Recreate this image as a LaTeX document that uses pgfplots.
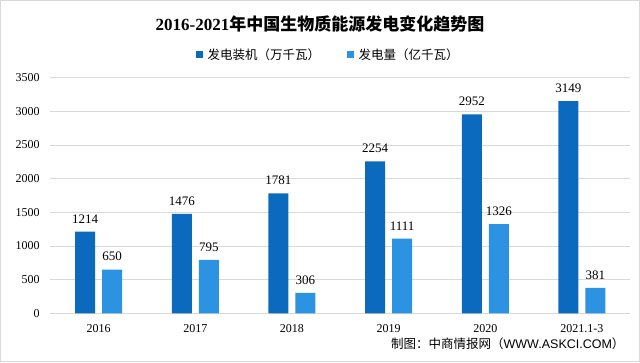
\documentclass[border=0pt]{standalone}
\usepackage{fontspec}
\setmainfont{Liberation Serif}
\newfontfamily\cjk{Noto Sans CJK SC}
\newfontfamily\sans{Liberation Sans}
\usepackage{pgfplots}
\pgfplotsset{compat=1.18}
\definecolor{dblue}{RGB}{12,106,190}
\definecolor{lblue}{RGB}{44,146,226}
\definecolor{gridc}{RGB}{217,217,217}
\begin{document}
\begin{tikzpicture}[x=1pt,y=1pt]
\useasboundingbox (0,0) rectangle (640,362);
\draw[gridc,line width=0.8pt] (0.5,0.5) rectangle (639.5,361.5);
\node[font=\fontsize{17}{17}\selectfont\bfseries] at (320,338) {2016-2021\cjk\bfseries 年中国生物质能源发电变化趋势图};
\fill[dblue] (196,304) rectangle (203,311);
\node[anchor=west,font=\fontsize{12.5}{12.5}\selectfont\cjk] at (204,307.5) {发电装机（万千瓦）};
\fill[lblue] (347,304) rectangle (354,311);
\node[anchor=west,font=\fontsize{12.5}{12.5}\selectfont\cjk] at (355,307.5) {发电量（亿千瓦）};
\node[anchor=east,font=\fontsize{12.5}{12.5}\selectfont\cjk] at (628,18) {制图：中商情报网（\sans WWW.ASKCI.COM\cjk）};
\begin{axis}[
  at={(52,72)}, anchor=south west,
  width=580pt, height=236pt, scale only axis,
  ybar=7pt, bar width=20pt,
  xmin=-0.5, xmax=5.5, ymin=0, ymax=3500,
  ytick={0,500,...,3500},
  xtick={0,...,5},
  xticklabels={2016,2017,2018,2019,2020,2021.1-3},
  xtick style={draw=none}, ytick style={draw=none},
  axis lines*=left,
  y axis line style={draw=none},
  x axis line style={gridc,line width=0.8pt,-},
  ymajorgrids, grid style={gridc,line width=0.6pt},
  yticklabel style={font=\fontsize{12}{12}\selectfont,xshift=-7pt},
  xticklabel style={font=\fontsize{12}{12}\selectfont,yshift=-3pt},
  /pgf/number format/assume math mode=true,
  /pgf/number format/1000 sep={},
  nodes near coords,
  nodes near coords style={font=\fontsize{13}{13}\selectfont,black,yshift=5pt},
  every node near coord/.append style={/pgf/number format/assume math mode=true,/pgf/number format/1000 sep={}},
  enlarge x limits=false,
  clip=false,
]
\addplot[fill=dblue,draw=none] coordinates {(0,1214) (1,1476) (2,1781) (3,2254) (4,2952) (5,3149)};
\addplot[fill=lblue,draw=none] coordinates {(0,650) (1,795) (2,306) (3,1111) (4,1326) (5,381)};
\end{axis}
\end{tikzpicture}
\end{document}
